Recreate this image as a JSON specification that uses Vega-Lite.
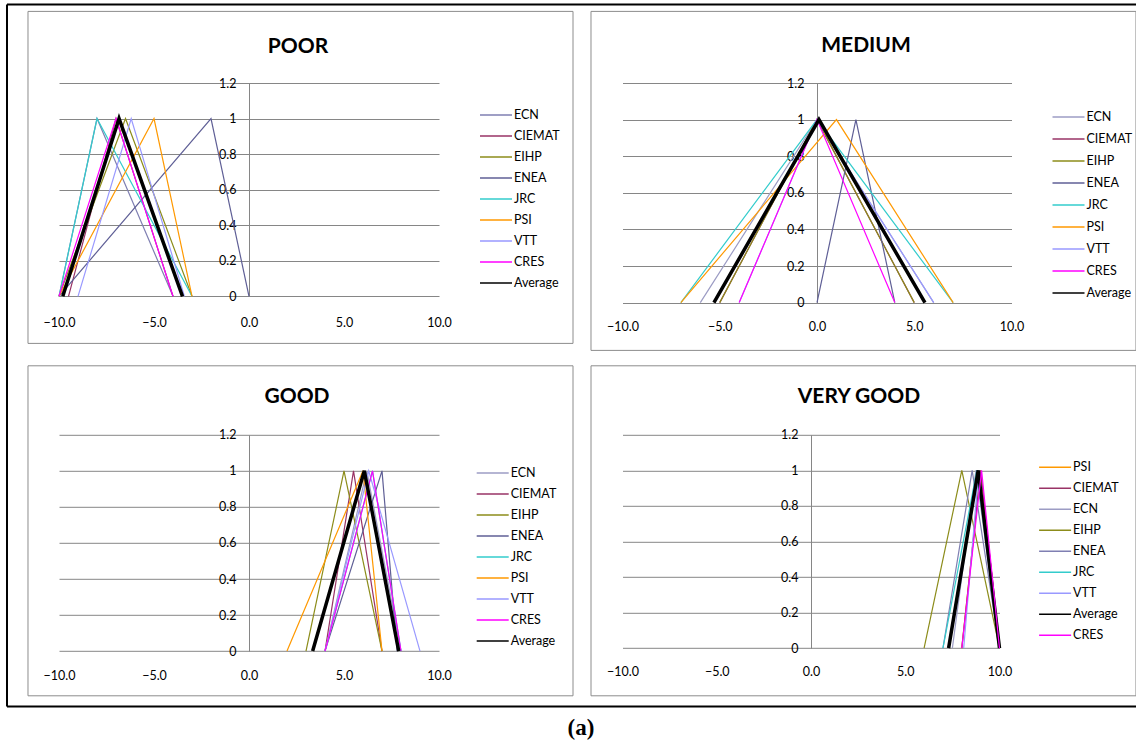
{
  "$schema": "https://vega.github.io/schema/vega-lite/v6.json",
  "padding": {"left": 5, "top": 3, "right": 0, "bottom": 3},
  "background": "white",
  "datasets": {
    "fz": [
      {"panel": "POOR", "series": "ECN", "x": -10, "y": 0}, {"panel": "POOR", "series": "ECN", "x": -8, "y": 1}, {"panel": "POOR", "series": "ECN", "x": -4, "y": 0},
      {"panel": "POOR", "series": "CIEMAT", "x": -9.5, "y": 0}, {"panel": "POOR", "series": "CIEMAT", "x": -7, "y": 1}, {"panel": "POOR", "series": "CIEMAT", "x": -4, "y": 0},
      {"panel": "POOR", "series": "EIHP", "x": -10, "y": 0}, {"panel": "POOR", "series": "EIHP", "x": -6.5, "y": 1}, {"panel": "POOR", "series": "EIHP", "x": -3, "y": 0},
      {"panel": "POOR", "series": "ENEA", "x": -10, "y": 0}, {"panel": "POOR", "series": "ENEA", "x": -2, "y": 1}, {"panel": "POOR", "series": "ENEA", "x": 0, "y": 0},
      {"panel": "POOR", "series": "JRC", "x": -10, "y": 0}, {"panel": "POOR", "series": "JRC", "x": -8, "y": 1}, {"panel": "POOR", "series": "JRC", "x": -3, "y": 0},
      {"panel": "POOR", "series": "PSI", "x": -10, "y": 0}, {"panel": "POOR", "series": "PSI", "x": -5, "y": 1}, {"panel": "POOR", "series": "PSI", "x": -3, "y": 0},
      {"panel": "POOR", "series": "VTT", "x": -9, "y": 0}, {"panel": "POOR", "series": "VTT", "x": -6.2, "y": 1}, {"panel": "POOR", "series": "VTT", "x": -3.4, "y": 0},
      {"panel": "POOR", "series": "CRES", "x": -10, "y": 0}, {"panel": "POOR", "series": "CRES", "x": -7, "y": 1}, {"panel": "POOR", "series": "CRES", "x": -4, "y": 0},
      {"panel": "POOR", "series": "Average", "x": -9.8, "y": 0}, {"panel": "POOR", "series": "Average", "x": -6.84, "y": 1}, {"panel": "POOR", "series": "Average", "x": -3.5, "y": 0},

      {"panel": "MEDIUM", "series": "ECN", "x": -6, "y": 0}, {"panel": "MEDIUM", "series": "ECN", "x": 0, "y": 1}, {"panel": "MEDIUM", "series": "ECN", "x": 6, "y": 0},
      {"panel": "MEDIUM", "series": "CIEMAT", "x": -5, "y": 0}, {"panel": "MEDIUM", "series": "CIEMAT", "x": 0, "y": 1}, {"panel": "MEDIUM", "series": "CIEMAT", "x": 5, "y": 0},
      {"panel": "MEDIUM", "series": "EIHP", "x": -5, "y": 0}, {"panel": "MEDIUM", "series": "EIHP", "x": 0, "y": 1}, {"panel": "MEDIUM", "series": "EIHP", "x": 5, "y": 0},
      {"panel": "MEDIUM", "series": "ENEA", "x": 0, "y": 0}, {"panel": "MEDIUM", "series": "ENEA", "x": 2, "y": 1}, {"panel": "MEDIUM", "series": "ENEA", "x": 4, "y": 0},
      {"panel": "MEDIUM", "series": "JRC", "x": -7, "y": 0}, {"panel": "MEDIUM", "series": "JRC", "x": 0, "y": 1}, {"panel": "MEDIUM", "series": "JRC", "x": 7, "y": 0},
      {"panel": "MEDIUM", "series": "PSI", "x": -7, "y": 0}, {"panel": "MEDIUM", "series": "PSI", "x": 1, "y": 1}, {"panel": "MEDIUM", "series": "PSI", "x": 7, "y": 0},
      {"panel": "MEDIUM", "series": "VTT", "x": -4, "y": 0}, {"panel": "MEDIUM", "series": "VTT", "x": 0, "y": 1}, {"panel": "MEDIUM", "series": "VTT", "x": 6, "y": 0},
      {"panel": "MEDIUM", "series": "CRES", "x": -4, "y": 0}, {"panel": "MEDIUM", "series": "CRES", "x": 0, "y": 1}, {"panel": "MEDIUM", "series": "CRES", "x": 4, "y": 0},
      {"panel": "MEDIUM", "series": "Average", "x": -5.3, "y": 0}, {"panel": "MEDIUM", "series": "Average", "x": 0.1, "y": 1}, {"panel": "MEDIUM", "series": "Average", "x": 5.55, "y": 0},

      {"panel": "GOOD", "series": "ECN", "x": 4, "y": 0}, {"panel": "GOOD", "series": "ECN", "x": 6.2, "y": 1}, {"panel": "GOOD", "series": "ECN", "x": 8, "y": 0},
      {"panel": "GOOD", "series": "CIEMAT", "x": 4, "y": 0}, {"panel": "GOOD", "series": "CIEMAT", "x": 5.5, "y": 1}, {"panel": "GOOD", "series": "CIEMAT", "x": 7, "y": 0},
      {"panel": "GOOD", "series": "EIHP", "x": 3, "y": 0}, {"panel": "GOOD", "series": "EIHP", "x": 5, "y": 1}, {"panel": "GOOD", "series": "EIHP", "x": 7, "y": 0},
      {"panel": "GOOD", "series": "ENEA", "x": 4, "y": 0}, {"panel": "GOOD", "series": "ENEA", "x": 7, "y": 1}, {"panel": "GOOD", "series": "ENEA", "x": 7.8, "y": 0},
      {"panel": "GOOD", "series": "JRC", "x": 4, "y": 0}, {"panel": "GOOD", "series": "JRC", "x": 6.5, "y": 1}, {"panel": "GOOD", "series": "JRC", "x": 8, "y": 0},
      {"panel": "GOOD", "series": "PSI", "x": 2, "y": 0}, {"panel": "GOOD", "series": "PSI", "x": 6, "y": 1}, {"panel": "GOOD", "series": "PSI", "x": 7, "y": 0},
      {"panel": "GOOD", "series": "VTT", "x": 4, "y": 0}, {"panel": "GOOD", "series": "VTT", "x": 6.3, "y": 1}, {"panel": "GOOD", "series": "VTT", "x": 9, "y": 0},
      {"panel": "GOOD", "series": "CRES", "x": 4, "y": 0}, {"panel": "GOOD", "series": "CRES", "x": 6.5, "y": 1}, {"panel": "GOOD", "series": "CRES", "x": 8, "y": 0},
      {"panel": "GOOD", "series": "Average", "x": 3.35, "y": 0}, {"panel": "GOOD", "series": "Average", "x": 6.07, "y": 1}, {"panel": "GOOD", "series": "Average", "x": 7.88, "y": 0},

      {"panel": "VERY GOOD", "series": "PSI", "x": 8, "y": 0}, {"panel": "VERY GOOD", "series": "PSI", "x": 9, "y": 1}, {"panel": "VERY GOOD", "series": "PSI", "x": 10, "y": 0},
      {"panel": "VERY GOOD", "series": "CIEMAT", "x": 8, "y": 0}, {"panel": "VERY GOOD", "series": "CIEMAT", "x": 9, "y": 1}, {"panel": "VERY GOOD", "series": "CIEMAT", "x": 10, "y": 0},
      {"panel": "VERY GOOD", "series": "ECN", "x": 7.5, "y": 0}, {"panel": "VERY GOOD", "series": "ECN", "x": 8.75, "y": 1}, {"panel": "VERY GOOD", "series": "ECN", "x": 10, "y": 0},
      {"panel": "VERY GOOD", "series": "EIHP", "x": 6, "y": 0}, {"panel": "VERY GOOD", "series": "EIHP", "x": 8, "y": 1}, {"panel": "VERY GOOD", "series": "EIHP", "x": 10, "y": 0},
      {"panel": "VERY GOOD", "series": "ENEA", "x": 7, "y": 0}, {"panel": "VERY GOOD", "series": "ENEA", "x": 8.55, "y": 1}, {"panel": "VERY GOOD", "series": "ENEA", "x": 10, "y": 0},
      {"panel": "VERY GOOD", "series": "JRC", "x": 7, "y": 0}, {"panel": "VERY GOOD", "series": "JRC", "x": 8.8, "y": 1}, {"panel": "VERY GOOD", "series": "JRC", "x": 10, "y": 0},
      {"panel": "VERY GOOD", "series": "VTT", "x": 8.1, "y": 0}, {"panel": "VERY GOOD", "series": "VTT", "x": 8.9, "y": 1}, {"panel": "VERY GOOD", "series": "VTT", "x": 10, "y": 0},
      {"panel": "VERY GOOD", "series": "Average", "x": 7.3, "y": 0}, {"panel": "VERY GOOD", "series": "Average", "x": 8.87, "y": 1}, {"panel": "VERY GOOD", "series": "Average", "x": 10, "y": 0},
      {"panel": "VERY GOOD", "series": "CRES", "x": 8, "y": 0}, {"panel": "VERY GOOD", "series": "CRES", "x": 9.05, "y": 1}, {"panel": "VERY GOOD", "series": "CRES", "x": 10, "y": 0}
    ]
  },
  "columns": 2,
  "spacing": {"row": 131.8, "column": 183.5},
  "bounds": "flush",
  "align": "each",
  "resolve": {
    "scale": {"x": "independent", "y": "independent", "color": "independent"},
    "legend": {"color": "independent"}
  },
  "concat": [
    {
      "width": 380, "height": 213.3,
      "layer": [
        {"data": {"values": [{}]}, "mark": {"type": "rect", "fill": null, "stroke": "#8c8c8c", "strokeWidth": 1},
         "encoding": {"x": {"datum": -11.632, "type": "quantitative"}, "x2": {"datum": 17.053}, "y": {"datum": 1.6028, "type": "quantitative"}, "y2": {"datum": -0.265}}},
        {"data": {"values": [{}]}, "mark": {"type": "rule", "color": "black", "strokeWidth": 2},
         "encoding": {"x": {"datum": -12.737, "type": "quantitative"}, "y": {"datum": 1.6422, "type": "quantitative"}, "y2": {"datum": -2.3072}}},
        {"data": {"values": [{}]}, "mark": {"type": "rule", "color": "black", "strokeWidth": 2},
         "encoding": {"x": {"datum": -12.737, "type": "quantitative"}, "x2": {"datum": 46.74}, "y": {"datum": 1.6422, "type": "quantitative"}}},
        {"data": {"values": [{}]}, "mark": {"type": "rule", "color": "black", "strokeWidth": 2},
         "encoding": {"x": {"datum": -12.737, "type": "quantitative"}, "x2": {"datum": 46.74}, "y": {"datum": -2.3072, "type": "quantitative"}}},
        {"data": {"values": [{}]}, "mark": {"type": "text", "text": "POOR", "font": "Lato", "fontSize": 21, "fontWeight": "bold", "align": "center", "baseline": "middle", "color": "black"},
         "encoding": {"x": {"datum": 2.579, "type": "quantitative"}, "y": {"datum": 1.4003, "type": "quantitative"}}},
        {"data": {"name": "fz"}, "transform": [{"filter": "datum.panel === 'POOR'"}],
         "mark": {"type": "line"},
         "encoding": {
           "x": {"field": "x", "type": "quantitative", "scale": {"domain": [-10, 10], "nice": false, "zero": false},
                 "axis": {"title": null, "values": [-10, -5, 0, 5, 10], "tickCount": 10, "format": ".1f", "ticks": false, "domain": false, "grid": false, "labelFlush": false, "labelOverlap": false, "labelPadding": 20}},
           "y": {"field": "y", "type": "quantitative", "scale": {"domain": [0, 1.2], "nice": false, "zero": false},
                 "axis": {"title": null, "values": [0, 0.2, 0.4, 0.6, 0.8, 1, 1.2], "tickCount": 10, "format": "~g", "offset": -190, "ticks": false, "grid": true, "labelFlush": false, "labelOverlap": false, "labelPadding": 13}},
           "color": {"field": "series", "type": "nominal",
                     "scale": {"domain": ["ECN", "CIEMAT", "EIHP", "ENEA", "JRC", "PSI", "VTT", "CRES", "Average"],
                               "range": ["#7F7FB2", "#993366", "#8C8C1A", "#5F5F96", "#33CCCC", "#FF9900", "#9999FF", "#FF00FF", "#000000"]},
                     "legend": {"orient": "none", "legendX": 420, "legendY": 21.4, "clipHeight": 21}},
           "strokeWidth": {"condition": {"test": "datum.series === 'Average'", "value": 3.5}, "value": 1.2}
         }}
      ]
    },
    {
      "width": 389, "height": 219.6,
      "layer": [
        {"data": {"values": [{}]}, "mark": {"type": "rect", "fill": null, "stroke": "#8c8c8c", "strokeWidth": 1},
         "encoding": {"x": {"datum": -11.62, "type": "quantitative"}, "x2": {"datum": 16.4}, "y": {"datum": 1.5913, "type": "quantitative"}, "y2": {"datum": -0.2612}}},
        {"data": {"values": [{}]}, "mark": {"type": "text", "text": "MEDIUM", "font": "Lato", "fontSize": 21, "fontWeight": "bold", "align": "center", "baseline": "middle", "color": "black"},
         "encoding": {"x": {"datum": 2.519, "type": "quantitative"}, "y": {"datum": 1.40, "type": "quantitative"}}},
        {"data": {"name": "fz"}, "transform": [{"filter": "datum.panel === 'MEDIUM'"}],
         "mark": {"type": "line"},
         "encoding": {
           "x": {"field": "x", "type": "quantitative", "scale": {"domain": [-10, 10], "nice": false, "zero": false},
                 "axis": {"title": null, "values": [-10, -5, 0, 5, 10], "tickCount": 10, "format": ".1f", "ticks": false, "domain": false, "grid": false, "labelFlush": false, "labelOverlap": false, "labelPadding": 18}},
           "y": {"field": "y", "type": "quantitative", "scale": {"domain": [0, 1.2], "nice": false, "zero": false},
                 "axis": {"title": null, "values": [0, 0.2, 0.4, 0.6, 0.8, 1, 1.2], "tickCount": 10, "format": "~g", "offset": -194.5, "ticks": false, "grid": true, "labelFlush": false, "labelOverlap": false, "labelPadding": 13}},
           "color": {"field": "series", "type": "nominal",
                     "scale": {"domain": ["ECN", "CIEMAT", "EIHP", "ENEA", "JRC", "PSI", "VTT", "CRES", "Average"],
                               "range": ["#9C9CC4", "#993366", "#8C8C1A", "#5F5F96", "#33CCCC", "#FF9900", "#9999FF", "#FF00FF", "#000000"]},
                     "legend": {"orient": "none", "legendX": 429, "legendY": 22.9, "clipHeight": 22}},
           "strokeWidth": {"condition": {"test": "datum.series === 'Average'", "value": 3.5}, "value": 1.2}
         }}
      ]
    },
    {
      "width": 380, "height": 216.3,
      "layer": [
        {"data": {"values": [{}]}, "mark": {"type": "rect", "fill": null, "stroke": "#8c8c8c", "strokeWidth": 1},
         "encoding": {"x": {"datum": -11.632, "type": "quantitative"}, "x2": {"datum": 17.053}, "y": {"datum": 1.5828, "type": "quantitative"}, "y2": {"datum": -0.248}}},
        {"data": {"values": [{}]}, "mark": {"type": "text", "text": "GOOD", "font": "Lato", "fontSize": 21, "fontWeight": "bold", "align": "center", "baseline": "middle", "color": "black"},
         "encoding": {"x": {"datum": 2.526, "type": "quantitative"}, "y": {"datum": 1.4108, "type": "quantitative"}}},
        {"data": {"values": [{}]}, "mark": {"type": "text", "text": "(a)", "font": "Liberation Serif", "fontSize": 23, "fontWeight": "bold", "align": "center", "baseline": "middle", "color": "black"},
         "encoding": {"x": {"datum": 17.47, "type": "quantitative"}, "y": {"datum": -0.4255, "type": "quantitative"}}},
        {"data": {"name": "fz"}, "transform": [{"filter": "datum.panel === 'GOOD'"}],
         "mark": {"type": "line"},
         "encoding": {
           "x": {"field": "x", "type": "quantitative", "scale": {"domain": [-10, 10], "nice": false, "zero": false},
                 "axis": {"title": null, "values": [-10, -5, 0, 5, 10], "tickCount": 10, "format": ".1f", "ticks": false, "domain": false, "grid": false, "labelFlush": false, "labelOverlap": false, "labelPadding": 18}},
           "y": {"field": "y", "type": "quantitative", "scale": {"domain": [0, 1.2], "nice": false, "zero": false},
                 "axis": {"title": null, "values": [0, 0.2, 0.4, 0.6, 0.8, 1, 1.2], "tickCount": 10, "format": "~g", "offset": -190, "ticks": false, "grid": true, "labelFlush": false, "labelOverlap": false, "labelPadding": 13}},
           "color": {"field": "series", "type": "nominal",
                     "scale": {"domain": ["ECN", "CIEMAT", "EIHP", "ENEA", "JRC", "PSI", "VTT", "CRES", "Average"],
                               "range": ["#9C9CC4", "#993366", "#8C8C1A", "#5F5F96", "#33CCCC", "#FF9900", "#9999FF", "#FF00FF", "#000000"]},
                     "legend": {"orient": "none", "legendX": 416.7, "legendY": 27.7, "clipHeight": 21}},
           "strokeWidth": {"condition": {"test": "datum.series === 'Average'", "value": 3.5}, "value": 1.2}
         }}
      ]
    },
    {
      "width": 377, "height": 213.3,
      "layer": [
        {"data": {"values": [{}]}, "mark": {"type": "rect", "fill": null, "stroke": "#8c8c8c", "strokeWidth": 1},
         "encoding": {"x": {"datum": -11.671, "type": "quantitative"}, "x2": {"datum": 17.24}, "y": {"datum": 1.5882, "type": "quantitative"}, "y2": {"datum": -0.2684}}},
        {"data": {"values": [{}]}, "mark": {"type": "text", "text": "VERY GOOD", "font": "Lato", "fontSize": 21, "fontWeight": "bold", "align": "center", "baseline": "middle", "color": "black"},
         "encoding": {"x": {"datum": 2.546, "type": "quantitative"}, "y": {"datum": 1.4138, "type": "quantitative"}}},
        {"data": {"name": "fz"}, "transform": [{"filter": "datum.panel === 'VERY GOOD'"}],
         "mark": {"type": "line"},
         "encoding": {
           "x": {"field": "x", "type": "quantitative", "scale": {"domain": [-10, 10], "nice": false, "zero": false},
                 "axis": {"title": null, "values": [-10, -5, 0, 5, 10], "tickCount": 10, "format": ".1f", "ticks": false, "domain": false, "grid": false, "labelFlush": false, "labelOverlap": false, "labelPadding": 17}},
           "y": {"field": "y", "type": "quantitative", "scale": {"domain": [0, 1.2], "nice": false, "zero": false},
                 "axis": {"title": null, "values": [0, 0.2, 0.4, 0.6, 0.8, 1, 1.2], "tickCount": 10, "format": "~g", "offset": -188.5, "ticks": false, "grid": true, "labelFlush": false, "labelOverlap": false, "labelPadding": 13}},
           "color": {"field": "series", "type": "nominal",
                     "scale": {"domain": ["PSI", "CIEMAT", "ECN", "EIHP", "ENEA", "JRC", "VTT", "Average", "CRES"],
                               "range": ["#FF9900", "#993366", "#9C9CC4", "#8C8C1A", "#7F7FB2", "#33CCCC", "#9999FF", "#000000", "#FF00FF"]},
                     "legend": {"orient": "none", "legendX": 415.6, "legendY": 22, "clipHeight": 21}},
           "strokeWidth": {"condition": {"test": "datum.series === 'Average'", "value": 3.5}, "value": 1.2}
         }}
      ]
    }
  ],
  "config": {
    "view": {"stroke": null},
    "font": "Lato",
    "axis": {"labelFont": "Lato", "labelFontSize": 12.5, "labelColor": "#000000", "gridColor": "#868686", "gridWidth": 1, "gridOpacity": 1, "domainColor": "#868686", "domainWidth": 1},
    "legend": {"title": null, "symbolType": "stroke", "symbolSize": 1024, "rowPadding": 0, "labelFont": "Lato", "labelFontSize": 12.5, "labelColor": "#000000", "labelOffset": 1,
               "symbolStrokeWidth": 1.5,
               "encode": {"symbols": {"update": {"strokeWidth": {"signal": "datum.value === 'Average' ? 3.5 : 1.6"}}}}}
  }
}
